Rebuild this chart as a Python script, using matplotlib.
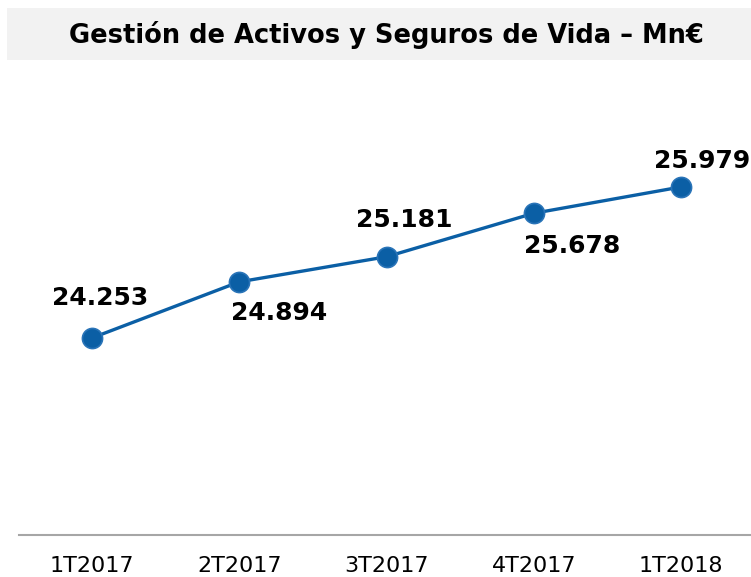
import matplotlib
matplotlib.use("Agg")
import matplotlib.pyplot as plt
from matplotlib.patches import Rectangle

quarters = ["1T2017", "2T2017", "3T2017", "4T2017", "1T2018"]
values = [24253, 24894, 25181, 25678, 25979]
labels = ["24.253", "24.894", "25.181", "25.678", "25.979"]

line_color = "#0b5fa5"

fig = plt.figure(figsize=(7.51, 5.77), dpi=100)

# title band
fig.patches.append(Rectangle((7 / 751, 517 / 577), 1 - 7 / 751, 52 / 577,
                             transform=fig.transFigure, facecolor="#f2f2f2",
                             edgecolor="none", zorder=0))
fig.text(386 / 751, 542 / 577, "Gestión de Activos y Seguros de Vida – Mn€",
         ha="center", va="center", fontsize=18.5, fontweight="bold",
         color="black")

ax = fig.add_axes([19 / 751, 42 / 577, 732 / 751, 435 / 577])
x = list(range(len(quarters)))
ax.plot(x, values, color=line_color, lw=2.4, marker="o", markersize=14.5,
        markerfacecolor=line_color, markeredgecolor="#2a74b8",
        markeredgewidth=1.2, clip_on=False, zorder=3)

ax.set_xlim(-0.496, 4.475)
ax.set_ylim(22000, 26973)

# label offsets from each point, in pixels
offsets = [(8, 40), (40, -31), (18, 37), (38, -33), (21, 26)]
for xi, v, lab, off in zip(x, values, labels, offsets):
    ax.annotate(lab, (xi, v), xytext=(off[0] * 0.72, off[1] * 0.72),
                textcoords="offset points", ha="center", va="center",
                fontsize=18, fontweight="bold", color="black",
                annotation_clip=False)

for side in ("top", "right", "left"):
    ax.spines[side].set_visible(False)
ax.spines["bottom"].set_color("#a6a6a6")
ax.spines["bottom"].set_linewidth(1.5)
ax.set_yticks([])
ax.set_xticks(x)
ax.set_xticklabels(quarters, fontsize=16)
ax.tick_params(axis="x", length=0, pad=15)

fig.savefig("out.png", dpi=100)
